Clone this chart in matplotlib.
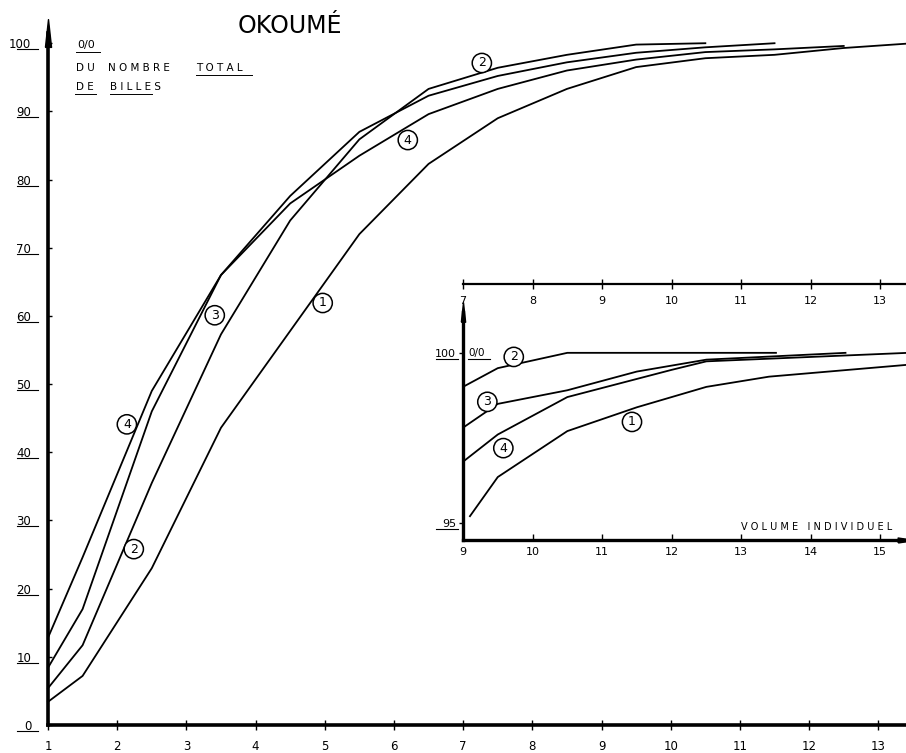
import matplotlib
matplotlib.use("Agg")
import matplotlib.pyplot as plt
from matplotlib import transforms
from matplotlib.path import Path

# main chart: cumulative % of logs vs individual volume
x_main = [1, 1.5, 2.5, 3.5, 4.5, 5.5, 6.5, 7.5, 8.5, 9.5, 10.5, 11.5, 12.5, 13.5]
curve_1 = [3.4, 7.2, 23.0, 43.6, 57.8, 72.0, 82.3, 89.0, 93.3, 96.5, 97.8, 98.3, 99.3, 100.0]
curve_2 = [5.4, 11.7, 35.5, 57.3, 74.0, 85.9, 93.3, 96.4, 98.3, 99.8, 100.0]
curve_3 = [8.4, 17.0, 46.0, 66.0, 77.6, 87.0, 92.3, 95.2, 97.2, 98.6, 99.4, 100.0]
curve_4 = [12.8, 24.6, 49.0, 66.0, 76.5, 83.5, 89.6, 93.3, 96.0, 97.6, 98.7, 99.1, 99.6]
main_xticks = list(range(1, 14))
main_yticks = [0, 10, 20, 30, 40, 50, 60, 70, 80, 90, 100]

# inset: zoom on the 95-100 % band
x_in_1 = [9.1, 9.5, 10.5, 11.5, 12.5, 13.4, 15.4]
in_1 = [95.2, 96.35, 97.7, 98.4, 99.0, 99.3, 99.65]
x_in_2 = [9, 9.5, 10.5, 13.5]
in_2 = [99.0, 99.55, 100.0, 100.0]
x_in_3 = [9, 9.5, 10.5, 11.5, 12.5, 14.5]
in_3 = [97.8, 98.5, 98.9, 99.45, 99.8, 100.0]
x_in_4 = [9, 9.5, 10.5, 12.0, 12.5, 15.4]
in_4 = [96.8, 97.6, 98.7, 99.5, 99.75, 100.0]
inset_xticks = list(range(9, 16))
top_scale_ticks = list(range(7, 14))

# circled curve numbers (label, x, y)
main_labels = [("2", 7.27, 97.1), ("4", 6.2, 85.8), ("3", 3.41, 60.1),
               ("1", 4.97, 61.9), ("4", 2.14, 44.1), ("2", 2.24, 25.8)]
inset_labels = [("2", 9.73, 99.88), ("3", 9.35, 98.56), ("4", 9.58, 97.2), ("1", 11.43, 97.97)]

W, H = 906, 753
fig = plt.figure(figsize=(W / 100, H / 100), dpi=100)
fig.patch.set_facecolor("white")


def px_axes(left, right, top, bottom):
    return fig.add_axes([left / W, 1 - bottom / H, (right - left) / W, (bottom - top) / H])


def spaced(word):
    # hand lettering is widely spaced
    return " ".join(word)


def px_text(x, y, s, size=7.5, underline=None):
    fig.text(x / W, 1 - y / H, s, fontsize=size, ha="left", va="center")
    if underline:
        x0, x1 = underline
        fig.add_artist(plt.Line2D([x0 / W, x1 / W], [1 - (y + 7) / H] * 2, color="black", lw=0.7))


arrow_up = Path([(-0.22, -1), (0.22, -1), (0, 1), (-0.22, -1)])
arrow_right = Path([(-1, -0.3), (-1, 0.3), (1, 0), (-1, -0.3)])
circle_box = dict(boxstyle="circle,pad=0.25", fc="white", ec="black", lw=1.1)

# ---- main axes
ax = px_axes(48, 906, 33, 725)
ax.set_xlim(1, 13.4)
ax.set_ylim(0, 101.5)
ax.patch.set_alpha(0)
for s in ["top", "right"]:
    ax.spines[s].set_visible(False)
ax.spines["left"].set_linewidth(2.6)
ax.spines["bottom"].set_linewidth(2.6)

for xs, ys in [(x_main, curve_1), (x_main[:len(curve_2)], curve_2),
               (x_main[:len(curve_3)], curve_3), (x_main[:len(curve_4)], curve_4)]:
    ax.plot(xs, ys, color="black", lw=1.3, clip_on=False)

ax.set_xticks(main_xticks)
ax.set_xticklabels([str(t) for t in main_xticks], fontsize=8.5)
ax.tick_params(axis="x", direction="inout", length=7, width=1, pad=7)
ax.set_yticks(main_yticks)
ax.set_yticklabels([str(t) for t in main_yticks], fontsize=8.5)
ax.tick_params(axis="y", direction="in", length=3, width=1, pad=12)

# underline the y labels like the hand lettering
ul = transforms.offset_copy(ax.get_yaxis_transform(), fig=fig, y=-6, units="dots")
for t in main_yticks:
    ax.plot([-0.036, -0.012], [t, t], color="black", lw=0.8, transform=ul, clip_on=False)

ax.plot(0, 1, marker=arrow_up, markersize=20, color="black", transform=ax.transAxes, clip_on=False)

for lab, x, y in main_labels:
    ax.text(x, y, lab, fontsize=9, ha="center", va="center", bbox=circle_box)

fig.text(290 / W, 1 - 26 / H, "OKOUMÉ", fontsize=17, ha="center", va="center")
px_text(77, 45, "0/0", size=8, underline=(76, 100))
px_text(76, 68, spaced("DU"))
px_text(108, 68, spaced("NOMBRE"))
px_text(196, 68, spaced("TOTAL"), underline=(196, 252))
px_text(76, 87, spaced("DE"), underline=(75, 96))
px_text(110, 87, spaced("BILLES"), underline=(110, 152))

# ---- scale line above the inset
ax_top = px_axes(463, 906, 283, 284)
ax_top.set_xlim(7, 13.37)
ax_top.set_ylim(0, 1)
ax_top.patch.set_alpha(0)
for s in ["top", "right", "left"]:
    ax_top.spines[s].set_visible(False)
ax_top.spines["bottom"].set_linewidth(1.6)
ax_top.set_yticks([])
ax_top.set_xticks(top_scale_ticks)
ax_top.set_xticklabels([str(t) for t in top_scale_ticks], fontsize=8)
ax_top.tick_params(axis="x", direction="inout", length=7, width=1, pad=5)

# ---- inset
ax_in = px_axes(463, 906, 312, 540)
ax_in.set_xlim(9, 15.37)
ax_in.set_ylim(94.5, 101.2)
ax_in.patch.set_alpha(0)
for s in ["top", "right"]:
    ax_in.spines[s].set_visible(False)
ax_in.spines["left"].set_linewidth(2.4)
ax_in.spines["bottom"].set_linewidth(2.4)

for xs, ys in [(x_in_1, in_1), (x_in_2, in_2), (x_in_3, in_3), (x_in_4, in_4)]:
    ax_in.plot(xs, ys, color="black", lw=1.3)

ax_in.set_xticks(inset_xticks)
ax_in.set_xticklabels([str(t) for t in inset_xticks], fontsize=8)
ax_in.tick_params(axis="x", direction="in", length=4, width=1, pad=5)
ax_in.set_yticks([95, 100])
ax_in.set_yticklabels(["95", "100"], fontsize=8)
ax_in.tick_params(axis="y", direction="out", length=3, width=1, pad=2)
ul_in = transforms.offset_copy(ax_in.get_yaxis_transform(), fig=fig, y=-6, units="dots")
for t in [95, 100]:
    ax_in.plot([-0.06, -0.012], [t, t], color="black", lw=0.8, transform=ul_in, clip_on=False)
ax_in.text(0.012, 100, "0/0", transform=ax_in.get_yaxis_transform(), fontsize=7.5,
           ha="left", va="center")
ax_in.plot([0.012, 0.06], [100, 100], color="black", lw=0.8, transform=ul_in, clip_on=False)

ax_in.plot(0, 1, marker=arrow_up, markersize=14, color="black", transform=ax_in.transAxes, clip_on=False)
ax_in.plot(1, 0, marker=arrow_right, markersize=12, color="black", transform=ax_in.transAxes, clip_on=False)

for lab, x, y in inset_labels:
    ax_in.text(x, y, lab, fontsize=9, ha="center", va="center", bbox=circle_box)

ax_in.text(0.97, 0.035, spaced("VOLUME") + "   " + spaced("INDIVIDUEL"), transform=ax_in.transAxes,
           fontsize=7, ha="right", va="bottom")

fig.savefig("out.png", dpi=100, facecolor="white")
